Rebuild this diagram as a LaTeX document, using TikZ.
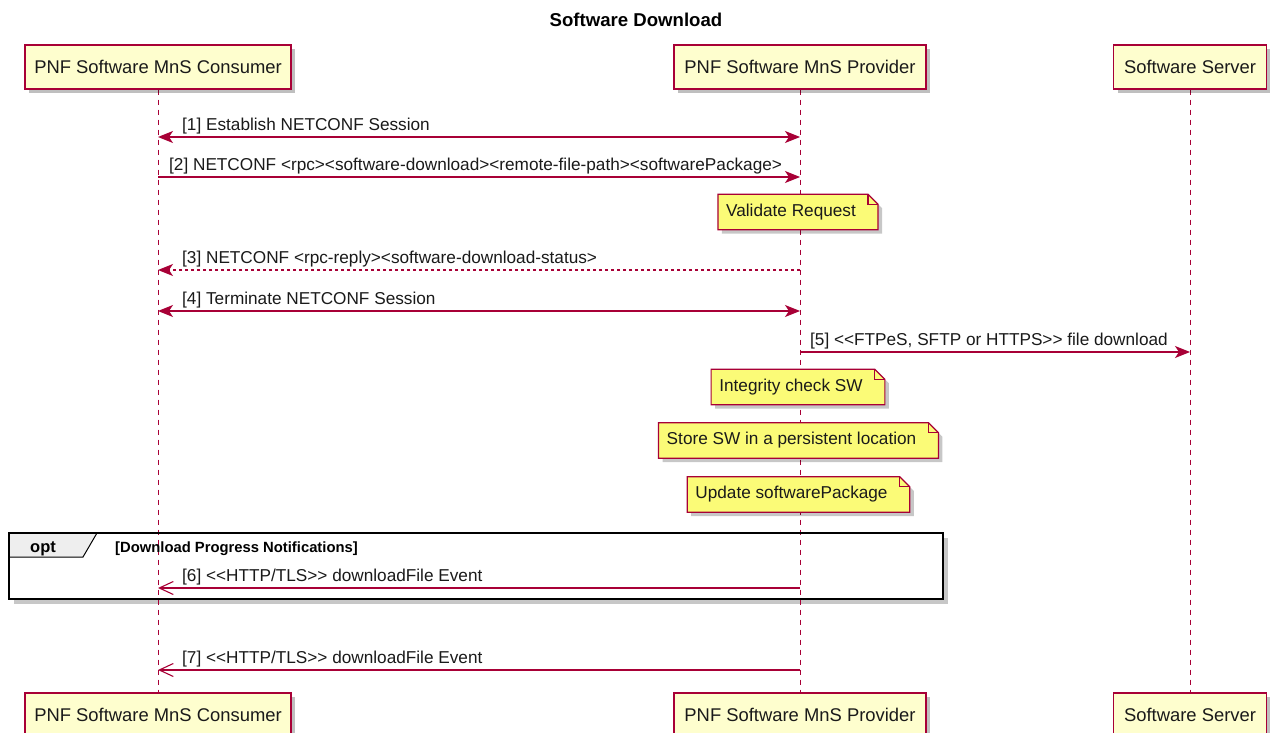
\documentclass[tikz,border=0pt]{standalone}
\usepackage{fontspec}
\setmainfont{Liberation Sans}[Ligatures=TeXOff]
\usetikzlibrary{arrows.meta,shadows}

\definecolor{umlred}{HTML}{A80036}
\definecolor{actorfill}{HTML}{FEFECE}
\definecolor{notefill}{HTML}{FBFB77}
\definecolor{tabfill}{HTML}{EEEEEE}
\definecolor{inktext}{HTML}{1A1A1A}

\pgfdeclarelayer{bg}
\pgfdeclarelayer{back}
\pgfdeclarelayer{mid}
\pgfsetlayers{bg,back,mid,main}

\tikzset{
  actor/.style={draw=umlred, line width=1.2pt, fill=actorfill, text=inktext,
    minimum height=44pt, inner sep=0pt,
    font=\fontsize{18.4}{22}\selectfont,
    drop shadow={shadow xshift=4pt, shadow yshift=-4pt, opacity=0.25, fill=black}},
  lifeline/.style={draw=umlred, line width=1pt, dash pattern=on 5pt off 5pt},
  msg/.style={draw=umlred, line width=1.2pt},
  solidhead/.style={-{Stealth[length=15pt, width=12pt, inset=4pt]}},
  bothheads/.style={{Stealth[length=15pt, width=12pt, inset=4pt]}-{Stealth[length=15pt, width=12pt, inset=4pt]}},
  openhead/.style={-{Straight Barb[length=14pt, width=13pt, line width=1.1pt]}},
  msglabel/.style={anchor=base west, inner sep=0pt, text=inktext,
    font=\fontsize{17.2}{20}\selectfont},
  notetext/.style={inner xsep=8pt, inner ysep=0pt, minimum height=35pt,
    text=inktext, font=\fontsize{17.2}{20}\selectfont},
  noteline/.style={draw=umlred, line width=1.2pt},
  shadowcol/.style={fill=black, opacity=0.22},
}

% folded-corner note outline drawn behind the named text node
\newcommand\foldnote[1]{%
  \begin{pgfonlayer}{mid}
    \fill[shadowcol, transform canvas={xshift=4pt, yshift=-4pt}]
      (#1.north west) -- ([xshift=-10pt]#1.north east) -- ([yshift=-10pt]#1.north east)
      -- (#1.south east) -- (#1.south west) -- cycle;
    \draw[noteline, fill=notefill]
      (#1.north west) -- ([xshift=-10pt]#1.north east) -- ([yshift=-10pt]#1.north east)
      -- (#1.south east) -- (#1.south west) -- cycle;
    \draw[noteline] ([xshift=-10pt]#1.north east) |- ([yshift=-10pt]#1.north east);
  \end{pgfonlayer}}
% room kept free for the folded corner
\newcommand\foldgap{\kern14pt}

\begin{document}
\begin{tikzpicture}[x=1pt, y=-1pt]
  \useasboundingbox (0,0) rectangle (1270,733);
  \begin{pgfonlayer}{bg}
    \fill[white] (0,0) rectangle (1270,733);
  \end{pgfonlayer}

  % title
  \node[font=\bfseries\fontsize{18.6}{22}\selectfont, text=black] (title) at (636,20) {Software Download};

  % participants, top and bottom
  \node[actor, minimum width=266pt] (consT) at (158,67) {PNF Software MnS Consumer};
  \node[actor, minimum width=252pt] (provT) at (800,67) {PNF Software MnS Provider};
  \node[actor, minimum width=153pt] (servT) at (1190,67) {Software Server};
  \node[actor, minimum width=266pt] (consB) at (158,715) {PNF Software MnS Consumer};
  \node[actor, minimum width=252pt] (provB) at (800,715) {PNF Software MnS Provider};
  \node[actor, minimum width=153pt] (servB) at (1190,715) {Software Server};

  % lifelines
  \begin{pgfonlayer}{back}
    \draw[lifeline] (consT.south) -- (consB.north);
    \draw[lifeline] (provT.south) -- (provB.north);
    \draw[lifeline] (servT.south) -- (servB.north);
  \end{pgfonlayer}

  % message anchor points on the lifelines
  \foreach \n/\y in {1/137, 2/177, 3/270, 4/311, 5/352, 6/588, 7/670} {
    \coordinate (c\n) at (consT.south |- 0,\y);
    \coordinate (p\n) at (provT.south |- 0,\y);
    \coordinate (s\n) at (servT.south |- 0,\y);
  }

  % [1]
  \draw[msg, bothheads] (c1) -- (p1);
  \node[msglabel] (m1) at ([xshift=24pt, yshift=6.5pt]c1) {[1] Establish NETCONF Session};
  % [2]
  \draw[msg, solidhead] (c2) -- (p2);
  \node[msglabel] (m2) at ([xshift=11pt, yshift=6.5pt]c2) {[2] NETCONF <rpc><software-download><remote-file-path><softwarePackage>};
  % note
  \node[notetext] (nValidate) at (798,212) {Validate Request\foldgap};
  \foldnote{nValidate}
  % [3]
  \draw[msg, solidhead, dash pattern=on 3pt off 3pt] (p3) -- (c3);
  \node[msglabel] (m3) at ([xshift=24pt, yshift=6.5pt]c3) {[3] NETCONF <rpc-reply><software-download-status>};
  % [4]
  \draw[msg, bothheads] (c4) -- (p4);
  \node[msglabel] (m4) at ([xshift=24pt, yshift=6.5pt]c4) {[4] Terminate NETCONF Session};
  % [5]
  \draw[msg, solidhead] (p5) -- (s5);
  \node[msglabel] (m5) at ([xshift=10pt, yshift=6.5pt]p5) {[5] <<FTPeS, SFTP or HTTPS>> file download};

  % notes on the provider
  \node[notetext] (nIntegrity) at (798,387) {Integrity check SW\foldgap};
  \foldnote{nIntegrity}
  \node[notetext] (nStore) at (798.5,440.5) {Store SW in a persistent location\foldgap};
  \foldnote{nStore}
  \node[notetext] (nUpdate) at (798.5,494.5) {Update softwarePackage\foldgap};
  \foldnote{nUpdate}

  % opt fragment
  \coordinate (optNW) at (9,533);
  \coordinate (optSE) at (943,599);
  \begin{pgfonlayer}{bg}
    \fill[shadowcol, transform canvas={xshift=5pt, yshift=-5pt}] (optNW) rectangle (optSE);
    \fill[white] (optNW) rectangle (optSE);
  \end{pgfonlayer}
  \draw[fill=tabfill, draw=black, line width=1pt] (optNW) -- (97,533) -- (83,557) -- (9,557) -- cycle;
  \draw[black, line width=2.2pt] (optNW) rectangle (optSE);
  \node[anchor=base, inner sep=0pt, font=\bfseries\fontsize{16.5}{20}\selectfont] (optTag) at (43,552) {opt};
  \node[anchor=base west, inner sep=0pt, font=\bfseries\fontsize{14.8}{18}\selectfont] (optCond) at (115,552) {[Download Progress Notifications]};

  % [6]
  \draw[msg, openhead] (p6) -- (c6);
  \node[msglabel] (m6) at ([xshift=24pt, yshift=6.5pt]c6) {[6] <<HTTP/TLS>> downloadFile Event};
  % [7]
  \draw[msg, openhead] (p7) -- (c7);
  \node[msglabel] (m7) at ([xshift=24pt, yshift=6.5pt]c7) {[7] <<HTTP/TLS>> downloadFile Event};
\end{tikzpicture}
\end{document}
